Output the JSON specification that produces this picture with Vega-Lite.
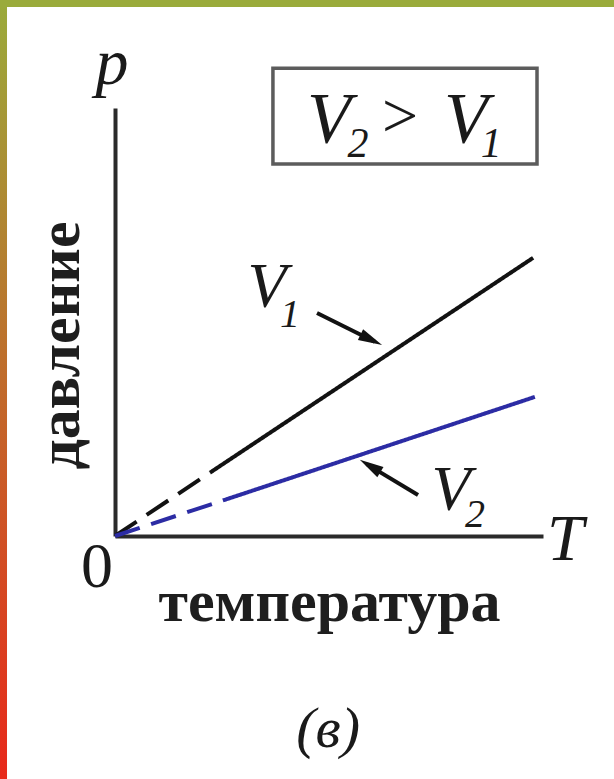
{
  "$schema": "https://vega.github.io/schema/vega-lite/v6.json",
  "width": 428,
  "height": 428,
  "autosize": {"type": "none"},
  "padding": {"left": 115, "top": 108, "right": 71, "bottom": 243},
  "background": "white",
  "config": {
    "view": {"stroke": null},
    "font": "Liberation Serif",
    "axis": {"labels": false, "ticks": false, "grid": false, "domainColor": "#2a2a2a", "domainWidth": 4},
    "text": {"font": "Liberation Serif", "align": "center", "baseline": "alphabetic", "color": "#1a1a1a"}
  },
  "datasets": {
    "frame": [
      {"piece": "left", "T": -2.687, "T2": -2.523, "p": -5.68, "p2": 12.53},
      {"piece": "top", "T": -2.687, "T2": 11.66, "p": 12.36, "p2": 12.53}
    ],
    "box": [{"T": 3.69, "T2": 9.86, "p": 10.93, "p2": 8.69}],
    "lines": [
      {"series": "V1", "part": "dash", "T": 0, "p": 0},
      {"series": "V1", "part": "dash", "T": 2.22, "p": 1.48},
      {"series": "V1", "part": "solid", "T": 2.22, "p": 1.48},
      {"series": "V1", "part": "solid", "T": 9.77, "p": 6.5},
      {"series": "V2", "part": "dash", "T": 0, "p": 0},
      {"series": "V2", "part": "dash", "T": 2.52, "p": 0.83},
      {"series": "V2", "part": "solid", "T": 2.52, "p": 0.83},
      {"series": "V2", "part": "solid", "T": 9.81, "p": 3.25}
    ],
    "arrows": [
      {"arrow": "V1", "T": 4.72, "p": 5.21, "T2": 6.07, "p2": 4.54},
      {"arrow": "V2", "T": 7.08, "p": 0.96, "T2": 5.88, "p2": 1.68}
    ],
    "heads": [
      {"arrow": "V1", "T": 6.24, "p": 4.46},
      {"arrow": "V2", "T": 5.72, "p": 1.78}
    ],
    "notes": [
      {"text": "p", "kind": "axis", "T": -0.07, "p": 10.56},
      {"text": "T", "kind": "axis", "T": 10.52, "p": -0.56},
      {"text": "V", "kind": "boxV", "T": 5.0, "p": 9.21},
      {"text": "2", "kind": "boxSub", "T": 5.68, "p": 8.86},
      {"text": "V", "kind": "boxV", "T": 8.2, "p": 9.21},
      {"text": "1", "kind": "boxSub", "T": 8.79, "p": 8.86},
      {"text": ">", "kind": "rel", "T": 6.66, "p": 9.32},
      {"text": "V", "kind": "tagV", "T": 3.55, "p": 5.35},
      {"text": "1", "kind": "tagSub", "T": 4.09, "p": 4.88},
      {"text": "V", "kind": "tagV", "T": 7.85, "p": 0.61},
      {"text": "2", "kind": "tagSub", "T": 8.41, "p": 0.21},
      {"text": "0", "kind": "zero", "T": -0.42, "p": -1.19},
      {"text": "(в)", "kind": "fig", "T": 4.98, "p": -4.93}
    ]
  },
  "layer": [
    {
      "data": {"name": "frame"},
      "transform": [{"filter": "datum.piece === 'left'"}],
      "mark": {
        "type": "rect",
        "fill": {
          "gradient": "linear",
          "x1": 0, "y1": 0, "x2": 0, "y2": 1,
          "stops": [
            {"offset": 0, "color": "#9aab3b"},
            {"offset": 1, "color": "#e8281a"}
          ]
        }
      },
      "encoding": {
        "x": {"field": "T", "type": "quantitative", "scale": {"domain": [0, 10], "nice": false, "zero": false}},
        "x2": {"field": "T2"},
        "y": {"field": "p", "type": "quantitative", "scale": {"domain": [0, 10], "nice": false, "zero": false}},
        "y2": {"field": "p2"}
      }
    },
    {
      "data": {"name": "frame"},
      "transform": [{"filter": "datum.piece === 'top'"}],
      "mark": {"type": "rect", "fill": "#9aab3b"},
      "encoding": {
        "x": {"field": "T", "type": "quantitative", "scale": {"domain": [0, 10], "nice": false, "zero": false}},
        "x2": {"field": "T2"},
        "y": {"field": "p", "type": "quantitative", "scale": {"domain": [0, 10], "nice": false, "zero": false}},
        "y2": {"field": "p2"}
      }
    },
    {
      "data": {"name": "box"},
      "mark": {"type": "rect", "fill": "white", "stroke": "#5c5c5c", "strokeWidth": 3.5},
      "encoding": {
        "x": {"field": "T", "type": "quantitative", "scale": {"domain": [0, 10], "nice": false, "zero": false}},
        "x2": {"field": "T2"},
        "y": {"field": "p", "type": "quantitative", "scale": {"domain": [0, 10], "nice": false, "zero": false}},
        "y2": {"field": "p2"}
      }
    },
    {
      "data": {"name": "lines"},
      "mark": {"type": "line", "strokeWidth": 4},
      "encoding": {
        "x": {
          "field": "T", "type": "quantitative",
          "scale": {"domain": [0, 10], "nice": false, "zero": false},
          "axis": {
            "title": "температура",
            "titleFont": "Liberation Serif", "titleFontSize": 60, "titleFontWeight": "bold",
            "titleColor": "#1e1e1e", "titleY": 84, "titleBaseline": "alphabetic"
          }
        },
        "y": {
          "field": "p", "type": "quantitative",
          "scale": {"domain": [0, 10], "nice": false, "zero": false},
          "axis": {
            "title": "давление",
            "titleFont": "Liberation Serif", "titleFontSize": 60, "titleFontWeight": "bold",
            "titleColor": "#1e1e1e", "titleX": -37, "titleY": 237,
            "titleBaseline": "alphabetic", "titleAlign": "center"
          }
        },
        "color": {"field": "series", "type": "nominal", "scale": {"domain": ["V1", "V2"], "range": ["#121212", "#2c2ca4"]}, "legend": null},
        "strokeDash": {"field": "part", "type": "nominal", "scale": {"domain": ["dash", "solid"], "range": [[26, 12], [1, 0]]}, "legend": null}
      }
    },
    {
      "data": {"name": "arrows"},
      "mark": {"type": "rule", "color": "#121212", "strokeWidth": 4},
      "encoding": {
        "x": {"field": "T", "type": "quantitative", "scale": {"domain": [0, 10], "nice": false, "zero": false}},
        "x2": {"field": "T2"},
        "y": {"field": "p", "type": "quantitative", "scale": {"domain": [0, 10], "nice": false, "zero": false}},
        "y2": {"field": "p2"}
      }
    },
    {
      "data": {"name": "heads"},
      "transform": [{"filter": "datum.arrow === 'V1'"}],
      "mark": {"type": "point", "shape": "M0,0L-2,-0.5L-2,0.5Z", "filled": true, "color": "#121212", "opacity": 1, "size": 576, "angle": 26},
      "encoding": {
        "x": {"field": "T", "type": "quantitative", "scale": {"domain": [0, 10], "nice": false, "zero": false}},
        "y": {"field": "p", "type": "quantitative", "scale": {"domain": [0, 10], "nice": false, "zero": false}}
      }
    },
    {
      "data": {"name": "heads"},
      "transform": [{"filter": "datum.arrow === 'V2'"}],
      "mark": {"type": "point", "shape": "M0,0L-2,-0.5L-2,0.5Z", "filled": true, "color": "#121212", "opacity": 1, "size": 576, "angle": 211},
      "encoding": {
        "x": {"field": "T", "type": "quantitative", "scale": {"domain": [0, 10], "nice": false, "zero": false}},
        "y": {"field": "p", "type": "quantitative", "scale": {"domain": [0, 10], "nice": false, "zero": false}}
      }
    },
    {
      "data": {"name": "notes"},
      "transform": [{"filter": "datum.kind === 'axis'"}],
      "mark": {"type": "text", "fontStyle": "italic", "fontSize": 66},
      "encoding": {
        "x": {"field": "T", "type": "quantitative", "scale": {"domain": [0, 10], "nice": false, "zero": false}},
        "y": {"field": "p", "type": "quantitative", "scale": {"domain": [0, 10], "nice": false, "zero": false}},
        "text": {"field": "text"}
      }
    },
    {
      "data": {"name": "notes"},
      "transform": [{"filter": "datum.kind === 'boxV'"}],
      "mark": {"type": "text", "fontStyle": "italic", "fontSize": 72},
      "encoding": {
        "x": {"field": "T", "type": "quantitative", "scale": {"domain": [0, 10], "nice": false, "zero": false}},
        "y": {"field": "p", "type": "quantitative", "scale": {"domain": [0, 10], "nice": false, "zero": false}},
        "text": {"field": "text"}
      }
    },
    {
      "data": {"name": "notes"},
      "transform": [{"filter": "datum.kind === 'boxSub'"}],
      "mark": {"type": "text", "fontStyle": "italic", "fontSize": 42},
      "encoding": {
        "x": {"field": "T", "type": "quantitative", "scale": {"domain": [0, 10], "nice": false, "zero": false}},
        "y": {"field": "p", "type": "quantitative", "scale": {"domain": [0, 10], "nice": false, "zero": false}},
        "text": {"field": "text"}
      }
    },
    {
      "data": {"name": "notes"},
      "transform": [{"filter": "datum.kind === 'rel'"}],
      "mark": {"type": "text", "fontSize": 64},
      "encoding": {
        "x": {"field": "T", "type": "quantitative", "scale": {"domain": [0, 10], "nice": false, "zero": false}},
        "y": {"field": "p", "type": "quantitative", "scale": {"domain": [0, 10], "nice": false, "zero": false}},
        "text": {"field": "text"}
      }
    },
    {
      "data": {"name": "notes"},
      "transform": [{"filter": "datum.kind === 'tagV'"}],
      "mark": {"type": "text", "fontStyle": "italic", "fontSize": 64},
      "encoding": {
        "x": {"field": "T", "type": "quantitative", "scale": {"domain": [0, 10], "nice": false, "zero": false}},
        "y": {"field": "p", "type": "quantitative", "scale": {"domain": [0, 10], "nice": false, "zero": false}},
        "text": {"field": "text"}
      }
    },
    {
      "data": {"name": "notes"},
      "transform": [{"filter": "datum.kind === 'tagSub'"}],
      "mark": {"type": "text", "fontStyle": "italic", "fontSize": 40},
      "encoding": {
        "x": {"field": "T", "type": "quantitative", "scale": {"domain": [0, 10], "nice": false, "zero": false}},
        "y": {"field": "p", "type": "quantitative", "scale": {"domain": [0, 10], "nice": false, "zero": false}},
        "text": {"field": "text"}
      }
    },
    {
      "data": {"name": "notes"},
      "transform": [{"filter": "datum.kind === 'zero'"}],
      "mark": {"type": "text", "fontSize": 64},
      "encoding": {
        "x": {"field": "T", "type": "quantitative", "scale": {"domain": [0, 10], "nice": false, "zero": false}},
        "y": {"field": "p", "type": "quantitative", "scale": {"domain": [0, 10], "nice": false, "zero": false}},
        "text": {"field": "text"}
      }
    },
    {
      "data": {"name": "notes"},
      "transform": [{"filter": "datum.kind === 'fig'"}],
      "mark": {"type": "text", "fontStyle": "italic", "fontSize": 58},
      "encoding": {
        "x": {"field": "T", "type": "quantitative", "scale": {"domain": [0, 10], "nice": false, "zero": false}},
        "y": {"field": "p", "type": "quantitative", "scale": {"domain": [0, 10], "nice": false, "zero": false}},
        "text": {"field": "text"}
      }
    }
  ]
}
